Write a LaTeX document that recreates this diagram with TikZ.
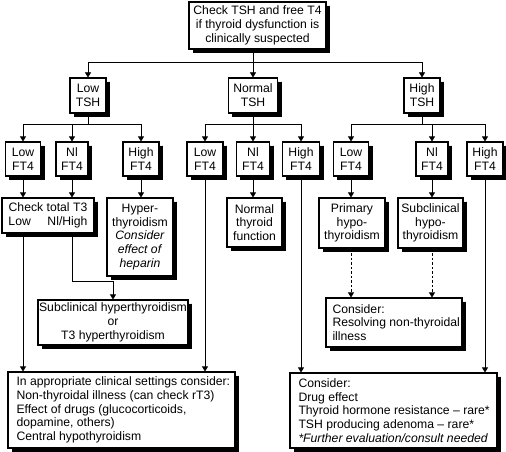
\documentclass[tikz,border=0pt]{standalone}
\usepackage{fontspec}
\setmainfont{Liberation Sans}
\usetikzlibrary{arrows.meta}
\newcommand\bx[6][]{%
  \foreach \d in {0.6,1.4,2.2,3.0,3.6}{%
    \draw[shadowline] ({#3+#5/2+\d},{#4-#6/2+3.6}) -- ({#3+#5/2+\d},{#4+#6/2+\d}) -- ({#3-#5/2+3.6},{#4+#6/2+\d});}
  \node[box,minimum width=#5pt,minimum height=#6pt,#1] (#2) at (#3,#4)}
\begin{document}
\begin{tikzpicture}[x=1pt,y=-1pt,
  box/.style={draw,line width=1.1pt,fill=white,
    inner sep=0pt,align=center,font=\fontsize{12.2}{13.8}\selectfont},
  lbox/.style={align=flush left,inner xsep=5pt,inner ysep=0pt,
    execute at begin node={\leftskip=3.5pt}},
  shadowline/.style={draw=black,line width=1pt,line join=miter,line cap=square},
  arr/.style={line width=0.6pt,-{Triangle[length=5pt,width=6pt]}},
  ln/.style={line width=0.6pt},
  darr/.style={arr,dash pattern=on 2.5pt off 2pt}]
\useasboundingbox (0,0) rectangle (506,452);
% level 0
\bx{top}{257.5}{25.5}{137}{47}
  {Check TSH and free T4\\if thyroid dysfunction is\\clinically suspected};
% level 1
\bx{lTSH}{88}{95.5}{36}{35} {Low\\TSH};
\bx{nTSH}{253}{95.5}{49}{35} {Normal\\TSH};
\bx{hTSH}{422}{95.5}{36}{35} {High\\TSH};
% level 2
\bx{lowA}{23}{159}{35}{34} {Low\\FT4};
\bx{niA}{72}{159}{32}{34} {Nl\\FT4};
\bx{highA}{141}{159}{36}{34} {High\\FT4};
\bx{lowB}{205}{159}{36}{34} {Low\\FT4};
\bx{niB}{253}{159}{33}{34} {Nl\\FT4};
\bx{highB}{301}{159}{37}{34} {High\\FT4};
\bx{lowC}{351}{159}{35}{34} {Low\\FT4};
\bx{niC}{432}{159}{32}{34} {Nl\\FT4};
\bx{highC}{485}{159}{36}{34} {High\\FT4};
% level 3
\bx{chkT3}{48}{215.5}{92}{35}
  {Check total T3\\\makebox[79pt]{Low\hfill Nl/High}};
\bx{hyper}{140}{237}{66}{78}
  {Hyper-\\thyroidism\\\textit{Consider}\\\textit{effect of}\\\textit{heparin}};
\bx{normf}{254.5}{222.5}{55}{49} {Normal\\thyroid\\function};
\bx{prim}{352}{223}{66}{50} {Primary\\hypo-\\thyroidism};
\bx{subhypo}{430.5}{223}{65}{50} {Subclinical\\hypo-\\thyroidism};
% level 4
\bx{subhyper}{113}{322.5}{150}{45}
  {Subclinical hyperthyroidism\\or\\T3 hyperthyroidism};
\bx[lbox,inner xsep=3pt,text width=130pt]{cons}{394}{322.5}{136}{49}
  {\mbox{Consider:}\\\mbox{Resolving non-thyroidal}\\\mbox{illness}};
% level 5
\bx[lbox,text width=217pt]{botL}{121.5}{410}{227}{76}
  {\mbox{In appropriate clinical settings consider:}\\\mbox{Non-thyroidal illness (can check rT3)}\\\mbox{Effect of drugs (glucocorticoids,}\\\mbox{dopamine, others)}\\\mbox{Central hypothyroidism}};
\bx[lbox,text width=197pt]{botR}{393.5}{410.5}{207}{75}
  {\mbox{Consider:}\\\mbox{Drug effect}\\\mbox{Thyroid hormone resistance -- rare*}\\\mbox{TSH producing adenoma -- rare*}\\\mbox{\textit{*Further evaluation/consult needed}}};
% junctions
\coordinate (j0) at (253,62);
\coordinate (ja) at (88,124);
\coordinate (jb) at (253,124);
\coordinate (jc) at (422,124);
\coordinate (jt) at (113,281);
% connectors level 0-1
\draw[arr] (top.south -| j0) -- (nTSH);
\draw[arr] (j0) -| (lTSH);
\draw[arr] (j0) -| (hTSH);
% level 1-2
\draw[ln] (lTSH) -- (ja);
\draw[arr] (ja) -| (lowA);
\draw[arr] (ja) -| (niA);
\draw[arr] (ja) -| (highA);
\draw[arr] (nTSH) -- (niB);
\draw[arr] (jb) -| (lowB);
\draw[arr] (jb) -| (highB);
\draw[ln] (hTSH) -- (jc);
\draw[arr] (jc) -| (lowC);
\draw[arr] (jc) -| (niC);
\draw[arr] (jc) -| (highC);
% level 2-3
\draw[arr] (lowA) -- (lowA |- chkT3.north);
\draw[arr] (niA) -- (niA |- chkT3.north);
\draw[arr] (highA) -- (highA |- hyper.north);
\draw[arr] (niB) -- (niB |- normf.north);
\draw[arr] (lowC) -- (lowC |- prim.north);
\draw[arr] (niC) -- (niC |- subhypo.north);
% lower connectors
\draw[arr] (chkT3.south -| lowA) -- (lowA |- botL.north);
\draw[arr] (chkT3.south -| niA) |- (jt) -- (subhyper.north);
\draw[arr] (lowB) -- (lowB |- botL.north);
\draw[arr] (highB) -- (highB |- botR.north);
\draw[arr] (highC) -- (highC |- botR.north);
\draw[darr] (prim.south -| lowC) -- (lowC |- cons.north);
\draw[darr] (subhypo.south -| niC) -- (niC |- cons.north);
\end{tikzpicture}
\end{document}
